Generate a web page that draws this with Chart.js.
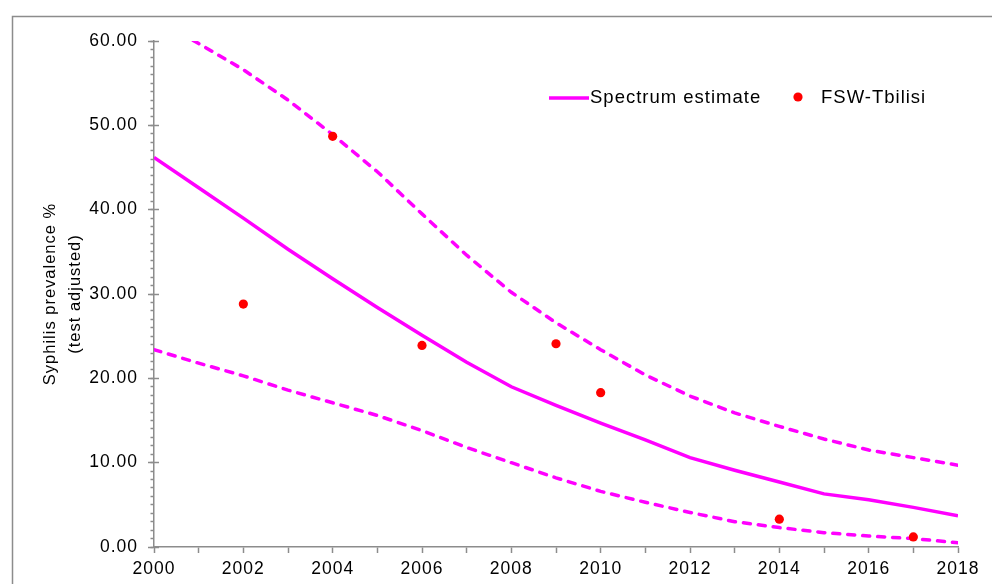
<!DOCTYPE html>
<html>
<head>
<meta charset="utf-8">
<script src="https://cdn.jsdelivr.net/npm/chart.js@4"></script>
<style>
html,body{margin:0;padding:0;background:#ffffff;}
canvas{display:block;}
</style>
</head>
<body>
<canvas id="c" width="992" height="584"></canvas>
<script>
// ---- data ----
const years = [2000,2001,2002,2003,2004,2005,2006,2007,2008,2009,2010,2011,2012,2013,2014,2015,2016,2017,2018];
const spectrumEstimate = [46.2,42.6,39.0,35.3,31.8,28.4,25.1,21.9,19.0,16.8,14.7,12.7,10.6,9.1,7.7,6.3,5.6,4.7,3.7];
const upperBound = [62.8,59.7,56.6,53.0,48.9,44.5,39.5,34.6,30.2,26.6,23.4,20.4,17.9,15.9,14.3,12.8,11.5,10.6,9.7];
const lowerBound = [23.4,21.8,20.3,18.6,17.1,15.6,13.8,11.8,10.0,8.2,6.6,5.3,4.1,3.0,2.3,1.7,1.3,1.0,0.5];
const surveyYears = [2002,2004,2006,2009,2010,2014,2017];
const fswTbilisi = [28.8,48.7,23.9,24.1,18.3,3.3,1.2];
const xTickLabels = ['2000','2002','2004','2006','2008','2010','2012','2014','2016','2018'];
const yTickLabels = ['0.00','10.00','20.00','30.00','40.00','50.00','60.00'];
const yTitle = ['Syphilis prevalence %','(test adjusted)'];

const FONT = '"Liberation Sans", Arial, sans-serif';
const pts = (xs, ys) => xs.map((x, i) => ({x: x, y: ys[i]}));

const spacingPlugin = {
  id: 'spacing',
  beforeUpdate(c){ c.ctx.letterSpacing = '1px'; },
  beforeLayout(c){ c.ctx.letterSpacing = '1px'; },
  beforeDraw(c){
    const ctx = c.ctx;
    ctx.letterSpacing = '1px';
    ctx.save();
    ctx.fillStyle = '#ffffff';
    ctx.fillRect(0, 0, c.width, c.height);
    ctx.strokeStyle = '#8c8c8c';
    ctx.lineWidth = 1.5;
    ctx.strokeRect(12.5, 16.5, 1200, 1200);
    ctx.restore();
  }
};

const legendPlugin = {
  id: 'insideLegend',
  afterDraw(chart, args, opts){
    const ctx = chart.ctx;
    ctx.save();
    ctx.letterSpacing = '1px';
    ctx.font = opts.fontSize + 'px ' + FONT;
    ctx.textBaseline = 'middle';
    ctx.textAlign = 'left';
    let k = 0;
    chart.data.datasets.forEach(ds => {
      if (!ds.inLegend) return;
      const p = opts.positions[k++];
      if (ds.showLine) {
        ctx.strokeStyle = ds.borderColor;
        ctx.lineWidth = ds.borderWidth;
        ctx.beginPath();
        ctx.moveTo(p.x, p.y);
        ctx.lineTo(p.x + 40, p.y);
        ctx.stroke();
        ctx.fillStyle = '#000';
        ctx.fillText(ds.label, p.x + 41, p.y);
      } else {
        ctx.fillStyle = ds.backgroundColor;
        ctx.beginPath();
        ctx.arc(p.x, p.y - 1, ds.pointRadius, 0, Math.PI * 2);
        ctx.fill();
        ctx.fillStyle = '#000';
        ctx.fillText(ds.label, p.x + 23, p.y);
      }
    });
    ctx.restore();
  }
};

const lineStyle = {showLine: true, pointRadius: 0, borderColor: '#ff00ff', borderWidth: 3.5, tension: 0, clip: 0, order: 1};

new Chart(document.getElementById('c'), {
  type: 'scatter',
  data: {
    datasets: [
      Object.assign({label: 'Spectrum estimate', data: pts(years, spectrumEstimate), inLegend: true}, lineStyle),
      Object.assign({label: 'Upper bound', data: pts(years, upperBound), borderDash: [7, 8], borderCapStyle: 'round'}, lineStyle),
      Object.assign({label: 'Lower bound', data: pts(years, lowerBound), borderDash: [7, 8], borderCapStyle: 'round'}, lineStyle),
      {label: 'FSW-Tbilisi', data: pts(surveyYears, fswTbilisi), showLine: false, pointRadius: 4.6, backgroundColor: '#ff0000', borderWidth: 0, order: 0, inLegend: true}
    ]
  },
  options: {
    responsive: false,
    devicePixelRatio: 1,
    animation: false,
    events: [],
    layout: {padding: {top: 41, right: 34, left: 0, bottom: 0}},
    font: {family: FONT},
    plugins: {
      legend: {display: false},
      tooltip: {enabled: false},
      insideLegend: {fontSize: 18.5, positions: [{x: 549, y: 98}, {x: 798, y: 98}]}
    },
    scales: {
      x: {
        type: 'linear', position: 'bottom', min: 2000, max: 2018,
        ticks: {
          stepSize: 1, autoSkip: false, maxRotation: 0, padding: 6, color: '#000',
          font: {family: FONT, size: 17.5},
          callback: v => { const s = String(v); return xTickLabels.includes(s) ? s : ''; }
        },
        grid: {drawOnChartArea: false, tickLength: 6, tickColor: '#8c8c8c', tickWidth: 1.5},
        border: {color: '#8c8c8c', width: 1.5},
        afterFit(s){ s.height = 37; }
      },
      y: {
        type: 'linear', position: 'left', weight: 10, min: 0, max: 60,
        ticks: {
          stepSize: 10, padding: 10, color: '#000',
          font: {family: FONT, size: 17.5},
          callback: v => yTickLabels.find(t => Number(t) === v) || ''
        },
        grid: {drawOnChartArea: false, tickLength: 6, tickColor: '#8c8c8c', tickWidth: 1.5},
        border: {color: '#8c8c8c', width: 1.5},
        title: {display: true, text: yTitle, color: '#000', font: {family: FONT, size: 16.5, lineHeight: 1.5}, padding: {top: 38, bottom: 0}},
        afterFit(s){ s.width = 154; }
      },
      yMinor: {
        type: 'linear', position: 'left', weight: 1, min: 0, max: 60,
        ticks: {stepSize: 1, display: false},
        grid: {drawOnChartArea: false, tickLength: 3.5, tickColor: '#8c8c8c', tickWidth: 1.5},
        border: {display: false},
        afterFit(s){ s.width = 0; }
      },
      yIn: {
        type: 'linear', position: 'left', weight: 0, min: 0, max: 60,
        ticks: {stepSize: 10, display: false},
        grid: {drawOnChartArea: false, tickLength: -5, tickColor: '#8c8c8c', tickWidth: 1.5},
        border: {display: false},
        afterFit(s){ s.width = 0; }
      }
    }
  },
  plugins: [spacingPlugin, legendPlugin]
});
</script>
</body>
</html>
